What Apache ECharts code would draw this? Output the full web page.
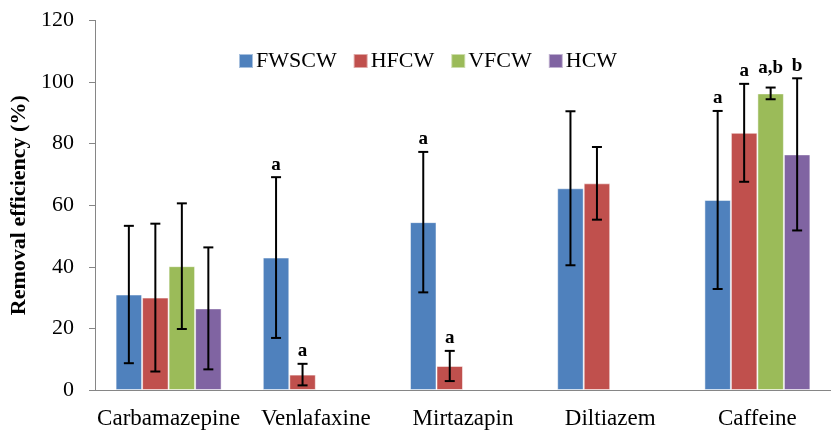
<!DOCTYPE html>
<html>
<head>
<meta charset="utf-8">
<script src="https://cdn.jsdelivr.net/npm/echarts@6/dist/echarts.min.js"></script>
<style>
html,body{margin:0;padding:0;background:#fff;}
#chart{width:831px;height:431px;}
</style>
</head>
<body>
<div id="chart"></div>
<script>
const categories = ['Carbamazepine', 'Venlafaxine', 'Mirtazapin', 'Diltiazem', 'Caffeine'];
const seriesNames = ['FWSCW', 'HFCW', 'VFCW', 'HCW'];
const yTicks = [0, 20, 40, 60, 80, 100, 120];

const fwscw = [31, 43, 54.5, 65.5, 61.7];
const hfcw  = [30, 5, 7.8, 67.1, 83.5];
const vfcw  = [40.2, null, null, null, 96.3];
const hcw   = [26.5, null, null, null, 76.5];

const fwscwErr = [22.3, 26.1, 22.8, 25, 28.9];
const hfcwErr  = [24, 3.5, 4.9, 11.8, 15.9];
const vfcwErr  = [20.4, null, null, null, 1.9];
const hcwErr   = [19.8, null, null, null, 24.7];

const fwscwSig = ['', 'a', 'a', '', 'a'];
const hfcwSig  = ['', 'a', 'a', '', 'a'];
const vfcwSig  = ['', '', '', '', 'a,b'];
const hcwSig   = ['', '', '', '', 'b'];

const colors = ['#4F81BD', '#C0504D', '#9BBB59', '#8064A2'];
const values = [fwscw, hfcw, vfcw, hcw];
const errs = [fwscwErr, hfcwErr, vfcwErr, hcwErr];
const sigs = [fwscwSig, hfcwSig, vfcwSig, hcwSig];

const FONT = '"Liberation Serif", "Times New Roman", serif';
const GAP = 0.28;

const errData = [];
values.forEach((arr, s) => {
  arr.forEach((v, c) => {
    if (v != null && errs[s][c] != null) {
      errData.push([c, v, errs[s][c], s, sigs[s][c]]);
    }
  });
});

const chart = echarts.init(document.getElementById('chart'));
chart.setOption({
  animation: false,
  color: colors,
  grid: { left: 95, top: 20.4, width: 748, height: 369.6 },
  legend: {
    data: seriesNames,
    left: 233, top: 45,
    icon: 'rect', itemWidth: 14, itemHeight: 14, itemGap: 16,
    textStyle: { fontFamily: FONT, fontSize: 22, color: '#000', padding: [0, 0, 0, -2] }
  },
  xAxis: {
    type: 'category',
    data: categories,
    axisLine: { lineStyle: { color: '#868686', width: 1 } },
    axisTick: { length: 5, lineStyle: { color: '#868686' } },
    axisLabel: { interval: 0, fontFamily: FONT, fontSize: 23, color: '#000', margin: 17 }
  },
  yAxis: {
    type: 'value', min: 0, max: 120, interval: 20,
    name: 'Removal efficiency (%)',
    nameLocation: 'middle', nameGap: 53,
    nameTextStyle: { fontFamily: FONT, fontSize: 22, fontWeight: 'bold', color: '#000' },
    axisLine: { show: true, lineStyle: { color: '#868686', width: 1 } },
    axisTick: { show: true, length: 6, lineStyle: { color: '#868686' } },
    splitLine: { show: false },
    axisLabel: { fontFamily: FONT, fontSize: 22, color: '#000', margin: 21,
      formatter: v => yTicks.includes(v) ? String(v) : '' }
  },
  series: seriesNames.map((n, s) => ({
    name: n, type: 'bar',
    data: values[s].map(v => v == null ? '-' : v),
    barGap: '0%', barCategoryGap: (GAP * 100) + '%',
    itemStyle: { color: colors[s], borderColor: 'rgba(255,255,255,0.5)', borderWidth: 1 }
  })).concat([{
    name: 'err', type: 'custom', z: 10,
    data: errData,
    encode: { x: 0, y: 1 },
    renderItem: function (params, api) {
      const c = api.value(0), v = api.value(1), e = api.value(2), s = api.value(3);
      const sig = errData[params.dataIndex][4];
      const band = api.size([1, 0])[0];
      const barW = band * (1 - GAP) / 4;
      const cx = api.coord([c, v])[0] - band * (1 - GAP) / 2 + (s + 0.5) * barW;
      const yHi = api.coord([c, v + e])[1];
      const yLo = api.coord([c, v - e])[1];
      const half = 5;
      const st = { stroke: '#000', lineWidth: 2 };
      const children = [
        { type: 'line', shape: { x1: cx, y1: yHi, x2: cx, y2: yLo }, style: st },
        { type: 'line', shape: { x1: cx - half, y1: yHi, x2: cx + half, y2: yHi }, style: st },
        { type: 'line', shape: { x1: cx - half, y1: yLo, x2: cx + half, y2: yLo }, style: st }
      ];
      if (sig) {
        children.push({
          type: 'text',
          style: {
            text: sig, x: cx, y: yHi - (sig.length > 1 ? 10 : 3),
            textAlign: 'center', textVerticalAlign: 'bottom',
            fontFamily: FONT, fontSize: 19, fontWeight: 'bold', fill: '#000'
          }
        });
      }
      return { type: 'group', children: children };
    }
  }])
});
</script>
</body>
</html>
